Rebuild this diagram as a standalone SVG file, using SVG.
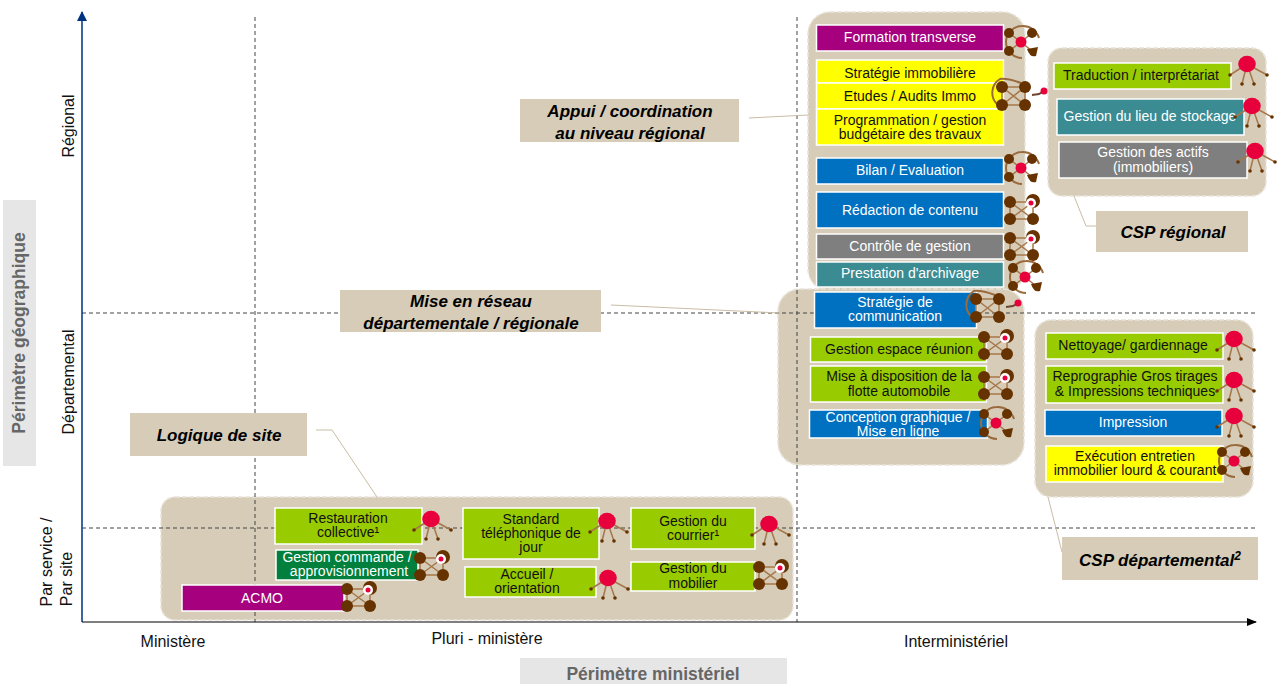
<svg xmlns="http://www.w3.org/2000/svg" xmlns:xlink="http://www.w3.org/1999/xlink" width="1279" height="684" viewBox="0 0 1279 684">
<style>
text{font-family:"Liberation Sans",Arial,sans-serif;text-anchor:middle}
.panel{fill:#d6ccb8;stroke:#e9e4da;stroke-width:1.5;stroke-dasharray:5 2}
.r{stroke:#fff;stroke-width:1.5}
.pur{fill:#a6007f}.yel{fill:#ffff00}.blu{fill:#0070c0}.gry{fill:#7f7f7f}.tea{fill:#3b8b93}.grn{fill:#99cc00}.dgr{fill:#00803c}
.w{fill:#fff;font-size:14px}.k{fill:#111;font-size:14px}
.lab{fill:#d6ccb8}
.lt{fill:#000;font-size:17px;font-weight:bold;font-style:italic}
.dash{fill:none;stroke:#444;stroke-width:1;stroke-dasharray:4 3}
.lead{fill:none;stroke:#c9bda6;stroke-width:1}
.ax{font-size:16px;fill:#111}
.ttl{font-size:17.5px;font-weight:bold;fill:#666}
.b{fill:#663300}.l{stroke:#a5774a;stroke-width:1.5;fill:none}.red{fill:#e8003c}
.arc{fill:none;stroke:#9a6a3c;stroke-width:2}
</style>
<defs>
<marker id="ah" markerWidth="10" markerHeight="8" refX="9" refY="4" orient="auto" markerUnits="userSpaceOnUse"><path d="M0 0L10 4L0 8Z" fill="#000"/></marker>
<marker id="ahb" markerWidth="10" markerHeight="10" refX="9" refY="5" orient="auto" markerUnits="userSpaceOnUse"><path d="M0 0L10 5L0 10Z" fill="#00337f"/></marker>
<g id="ringIcon">
<path class="arc" d="M18-4A17 17 0 0 0 1-16A16 16 0 0 0 1 16"/>
<path class="l" d="M-12-9L0 0M11-9L0 0M-12 9L0 0M11 9L0 0"/>
<circle class="b" cx="-12" cy="-9" r="5"/><circle class="b" cx="11" cy="-9" r="5"/><circle class="b" cx="-12" cy="9" r="5"/><path class="b" d="M6 7L17 5L15 14Q9 16 6 7Z"/>
<circle class="red" cx="0" cy="0" r="5.5"/>
</g>
<g id="netIcon">
<circle class="b" cx="23" cy="-1" r="7"/>
<path class="l" d="M0 0H23V17H0ZM0 0L23 17M23 0L0 17"/>
<circle class="b" cx="0" cy="0" r="6"/><circle class="b" cx="0" cy="17" r="6"/><circle class="b" cx="23" cy="17" r="6"/>
<circle cx="21" cy="1" r="5" fill="#fff"/><circle class="red" cx="21" cy="1" r="2.5"/>
</g>
<g id="tailIcon">
<path class="arc" d="M-5 17A16 16 0 0 1 -2-8Q5-9 19-4"/>
<path class="l" d="M0 0H23V18H0ZM0 0L23 18M23 0L0 18"/>
<circle class="b" cx="0" cy="0" r="6"/><circle class="b" cx="23" cy="0" r="6"/><circle class="b" cx="0" cy="18" r="6"/><circle class="b" cx="23" cy="18" r="6"/>
<path d="M30 8L37 7L42 4" fill="none" stroke="#70452f" stroke-width="2"/>
<circle class="red" cx="42" cy="4" r="3.5"/>
</g>
<g id="spiderIcon">
<path class="l" d="M0 0L-17 11M0 0L-5 20M0 0L7 20M0 0L20 11"/>
<circle class="b" cx="-17" cy="11" r="1.8"/><circle class="b" cx="-5" cy="20" r="1.8"/><circle class="b" cx="7" cy="20" r="1.8"/><circle class="b" cx="20" cy="11" r="1.8"/>
<ellipse class="red" cx="0" cy="0" rx="8.8" ry="8.2"/>
</g>
</defs>
<rect width="1279" height="684" fill="#fff"/>
<g id="panels">
<rect class="panel" x="808" y="12" width="217" height="279" rx="22"/>
<rect class="panel" x="778" y="289" width="246" height="176" rx="22"/>
<rect class="panel" x="1048" y="48" width="218" height="148" rx="14"/>
<rect class="panel" x="1035" y="320" width="218" height="177" rx="16"/>
<rect class="panel" x="161" y="497" width="632" height="123" rx="14"/>
</g>
<g id="connectors">
<path class="dash" d="M255 17V622M797 17V622M82 313H1256M82 528H1256"/>
<path d="M82 622V12" stroke="#00337f" stroke-width="1.5" fill="none" marker-end="url(#ahb)"/>
<path d="M82 622H1256" stroke="#000" stroke-width="1.2" fill="none" marker-end="url(#ah)"/>
<path class="lead" d="M749 118L808 115"/>
<path class="lead" d="M1074 196L1086 226H1096"/>
<path class="lead" d="M611 305L780 313"/>
<path class="lead" d="M316 430H332L377 497"/>
<path class="lead" d="M1048 497L1062 552"/>
</g>
<g id="axis-labels">
<rect x="3" y="200" width="33" height="266" fill="#e6e6e6"/>
<text class="ttl" transform="translate(25 333) rotate(-90)">Périmètre géographique</text>
<rect x="520" y="658" width="267" height="26" fill="#e6e6e6"/>
<text class="ttl" x="653" y="680">Périmètre ministériel</text>
<text class="ax" transform="translate(74 126) rotate(-90)">Régional</text>
<text class="ax" transform="translate(74 382) rotate(-90)">Départemental</text>
<text class="ax" transform="translate(52 562) rotate(-90)">Par service /</text>
<text class="ax" transform="translate(72 579) rotate(-90)">Par site</text>
<text class="ax" x="173" y="647">Ministère</text>
<text class="ax" x="487" y="644">Pluri - ministère</text>
<text class="ax" x="956" y="647">Interministériel</text>
</g>
<g id="label-appui"><rect class="lab" x="520" y="99" width="219" height="43"/><text class="lt" x="630" y="117">Appui / coordination</text><text class="lt" x="630" y="139">au niveau régional</text></g>
<g id="label-csp-regional"><rect class="lab" x="1096" y="211" width="152" height="41"/><text class="lt" x="1173" y="238">CSP régional</text></g>
<g id="label-reseau"><rect class="lab" x="340" y="290" width="261" height="42"/><text class="lt" x="471" y="307">Mise en réseau</text><text class="lt" x="471" y="329">départementale / régionale</text></g>
<g id="label-site"><rect class="lab" x="130" y="413" width="177" height="43"/><text class="lt" x="219" y="441">Logique de site</text></g>
<g id="label-csp-dep"><rect class="lab" x="1062" y="537" width="196" height="43"/><text class="lt" x="1160" y="566">CSP départemental<tspan font-size="12" dy="-6">2</tspan></text></g>

<g id="n-formation"><rect class="r pur" x="816.500" y="25" width="187" height="26"/><text class="w" x="910" y="42">Formation transverse</text><use href="#ringIcon" x="1021" y="42"/></g>
<g id="n-immo"><rect class="r yel" x="816.500" y="60" width="187" height="23"/><text class="k" x="910" y="78">Stratégie immobilière</text><rect class="r yel" x="816.500" y="83" width="187" height="26"/><text class="k" x="910" y="101">Etudes / Audits Immo</text><rect class="r yel" x="816.500" y="109" width="187" height="36"/><text class="k" x="910" y="125">Programmation / gestion</text><text class="k" x="910" y="139">budgétaire des travaux</text><use href="#tailIcon" x="1002" y="87"/></g>
<g id="n-bilan"><rect class="r blu" x="816.500" y="158" width="187" height="26"/><text class="w" x="910" y="175">Bilan / Evaluation</text><use href="#ringIcon" x="1021" y="168"/></g>
<g id="n-redaction"><rect class="r blu" x="816.500" y="192" width="187" height="36"/><text class="w" x="910" y="215">Rédaction de contenu</text><use href="#netIcon" x="1010" y="202"/></g>
<g id="n-controle"><rect class="r gry" x="816.500" y="234" width="187" height="25"/><text class="w" x="910" y="251">Contrôle de gestion</text><use href="#netIcon" x="1010" y="238"/></g>
<g id="n-archivage"><rect class="r tea" x="816.500" y="262" width="187" height="25"/><text class="w" x="910" y="278">Prestation d'archivage</text><use href="#ringIcon" x="1025" y="277"/></g>
<g id="n-communication"><rect class="r blu" x="814.500" y="292" width="162" height="36"/><text class="w" x="895" y="307">Stratégie de</text><text class="w" x="895" y="321">communication</text><use href="#tailIcon" x="976" y="299"/></g>
<g id="n-reunion"><rect class="r grn" x="810.500" y="337" width="176" height="25"/><text class="k" x="899" y="354">Gestion espace réunion</text><use href="#netIcon" x="984" y="337"/></g>
<g id="n-flotte"><rect class="r grn" x="810.500" y="366" width="176" height="36"/><text class="k" x="899" y="381">Mise à disposition de la</text><text class="k" x="899" y="396">flotte automobile</text><use href="#netIcon" x="984" y="377"/></g>
<g id="n-conception"><rect class="r blu" x="809.500" y="410" width="178" height="28"/><text class="w" x="898" y="422">Conception graphique /</text><text class="w" x="898" y="436">Mise en ligne</text><use href="#ringIcon" x="996" y="423"/></g>
<g id="n-traduction"><rect class="r grn" x="1054" y="63" width="177" height="26"/><text class="k" x="1141" y="80">Traduction / interprétariat</text><use href="#spiderIcon" x="1247" y="64"/></g>
<g id="n-stockage"><rect class="r tea" x="1057" y="99" width="187" height="36"/><text class="w" x="1150" y="121">Gestion du lieu de stockage</text><use href="#spiderIcon" x="1252" y="106"/></g>
<g id="n-actifs"><rect class="r gry" x="1059" y="142" width="188" height="36"/><text class="w" x="1153" y="157">Gestion des actifs</text><text class="w" x="1153" y="172">(immobiliers)</text><use href="#spiderIcon" x="1255" y="151"/></g>
<g id="n-nettoyage"><rect class="r grn" x="1046" y="333" width="177" height="26"/><text class="k" x="1133" y="350">Nettoyage/ gardiennage</text><use href="#spiderIcon" x="1234" y="339"/></g>
<g id="n-repro"><rect class="r grn" x="1046" y="366" width="177" height="37"/><text class="k" x="1135" y="381">Reprographie Gros tirages</text><text class="k" x="1135" y="396">&amp; Impressions techniques</text><use href="#spiderIcon" x="1234" y="380"/></g>
<g id="n-impression"><rect class="r blu" x="1045" y="410" width="177" height="26"/><text class="w" x="1133" y="427">Impression</text><use href="#spiderIcon" x="1234" y="416"/></g>
<g id="n-execution"><rect class="r yel" x="1046" y="446" width="177" height="36"/><text class="k" x="1135" y="461">Exécution entretien</text><text class="k" x="1135" y="475">immobilier lourd &amp; courant</text><use href="#ringIcon" x="1234" y="461"/></g>
<g id="n-restauration"><rect class="r grn" x="275" y="508" width="147" height="36"/><text class="k" x="348" y="523">Restauration</text><text class="k" x="348" y="537">collective¹</text><use href="#spiderIcon" x="431" y="519"/></g>
<g id="n-commande"><rect class="r dgr" x="276" y="550" width="142" height="30"/><text class="w" x="347" y="562">Gestion commande /</text><text class="w" x="349" y="576">approvisionnement</text><use href="#netIcon" x="420" y="558"/></g>
<g id="n-acmo"><rect class="r pur" x="182" y="585" width="162" height="26"/><text class="w" x="262" y="603">ACMO</text><use href="#netIcon" x="347" y="589"/></g>
<g id="n-standard"><rect class="r grn" x="463" y="508" width="136" height="51"/><text class="k" x="531" y="524">Standard</text><text class="k" x="531" y="538">téléphonique de</text><text class="k" x="531" y="552">jour</text><use href="#spiderIcon" x="607" y="521"/></g>
<g id="n-accueil"><rect class="r grn" x="465" y="567" width="131" height="30"/><text class="k" x="527" y="579">Accueil /</text><text class="k" x="527" y="593">orientation</text><use href="#spiderIcon" x="608" y="578"/></g>
<g id="n-courrier"><rect class="r grn" x="631" y="508" width="124" height="41"/><text class="k" x="693" y="526">Gestion du</text><text class="k" x="693" y="540">courrier¹</text><use href="#spiderIcon" x="769" y="524"/></g>
<g id="n-mobilier"><rect class="r grn" x="631" y="562" width="124" height="29"/><text class="k" x="693" y="573">Gestion du</text><text class="k" x="693" y="588">mobilier</text><use href="#netIcon" x="759" y="567"/></g>
</svg>
